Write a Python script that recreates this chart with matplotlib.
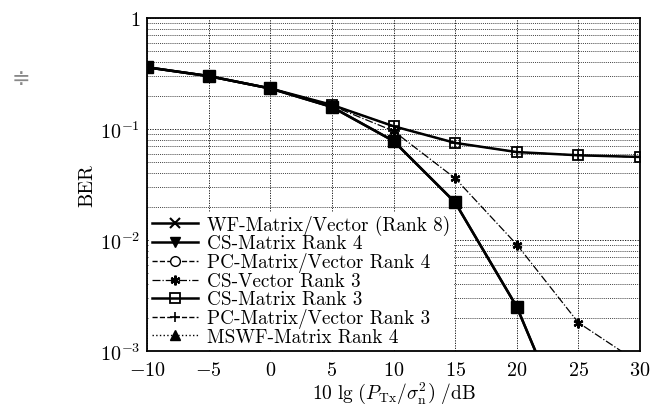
import numpy as np
import matplotlib
matplotlib.use("Agg")
import matplotlib.pyplot as plt
from matplotlib.ticker import FixedLocator, FixedFormatter, LogLocator, NullFormatter

plt.rcParams['font.family'] = ['cmr10', 'DejaVu Serif']
plt.rcParams['mathtext.fontset'] = 'cm'
plt.rcParams['axes.unicode_minus'] = False

# SNR in dB
snr = [-10, -5, 0, 5, 10, 15, 20, 25, 30]

# rank 4 curves (WF, CS-Matrix R4, PC R4, MSWF R4 lie on top of each other)
ber_rank4 = [0.36, 0.30, 0.232, 0.158, 0.078, 0.0218, 0.0025, 0.00012, 0.000005]
# CS-Vector rank 3
ber_csvec3 = [0.36, 0.30, 0.232, 0.162, 0.096, 0.036, 0.0091, 0.0018, 0.00077]
# CS-Matrix rank 3 and PC-Matrix/Vector rank 3
ber_rank3 = [0.36, 0.30, 0.232, 0.165, 0.106, 0.075, 0.062, 0.058, 0.056]

labels = ["WF-Matrix/Vector (Rank 8)", "CS-Matrix Rank 4", "PC-Matrix/Vector Rank 4",
          "CS-Vector Rank 3", "CS-Matrix Rank 3", "PC-Matrix/Vector Rank 3",
          "MSWF-Matrix Rank 4"]

fig = plt.figure(figsize=(6.52, 4.14), dpi=100)
ax = fig.add_axes([0.2255, 0.1498, 0.7561, 0.8042])

k = dict(color='black', markersize=7)
ax.plot(snr, ber_rank4, '-', marker='x', lw=1.8, mew=1.5, label=labels[0], **k)
ax.plot(snr, ber_rank4, '-', marker='v', lw=1.8, mfc='black', label=labels[1], **k)
ax.plot(snr, ber_rank4, '--', marker='o', lw=1.0, mfc='white', label=labels[2], **k)
ax.plot(snr, ber_csvec3, '-.', marker=(6, 2, 0), lw=0.9, mew=1.6, label=labels[3], **k)
ax.plot(snr, ber_rank3, '-', marker='s', lw=1.8, mfc='none', mew=1.3, label=labels[4], **k)
ax.plot(snr, ber_rank3, '--', marker='+', lw=1.0, mew=1.2, label=labels[5], **k)
ax.plot(snr, ber_rank4, ':', marker='^', lw=1.0, mfc='black', label=labels[6], **k)
# overlapping rank-4 markers form solid blobs
ax.plot(snr, ber_rank4, linestyle='none', marker='s', color='black', markersize=8)

ax.set_yscale('log')
ax.set_xlim(-10, 30)
ax.set_ylim(1e-3, 1)
ax.xaxis.set_major_locator(FixedLocator(snr))
ax.set_xticklabels([r'$%d$' % v if v >= 0 else r'$-%d$' % -v for v in snr])
ax.yaxis.set_major_locator(FixedLocator([1e-3, 1e-2, 1e-1, 1]))
ax.yaxis.set_major_formatter(FixedFormatter([r'$10^{-3}$', r'$10^{-2}$', r'$10^{-1}$', r'$1$']))
ax.yaxis.set_minor_locator(LogLocator(base=10, subs=np.arange(2, 10)))
ax.yaxis.set_minor_formatter(NullFormatter())
ax.tick_params(which='both', direction='in', labelsize=14.5, length=0, pad=5)
ax.tick_params(axis='x', pad=7)

ax.grid(True, which='major', axis='both', color='black', linestyle=(0, (1.5, 1.5)), lw=0.6)
ax.grid(True, which='minor', axis='y', color='black', linestyle=(0, (1.5, 1.5)), lw=0.5)
for s in ax.spines.values():
    s.set_linewidth(1.3)

ax.set_xlabel(r'$10\ \mathrm{lg}\ \left(P_{\mathrm{Tx}}/\sigma_{\mathrm{n}}^{2}\right)\ /\mathrm{dB}$',
              fontsize=14, labelpad=0.5)
ax.set_ylabel('BER', fontsize=14.5, labelpad=2)

leg = ax.legend(loc='lower left', fontsize=13.8, frameon=True, fancybox=False,
                edgecolor='white', framealpha=1, handlelength=2.4, borderpad=0.15,
                labelspacing=0.0, handletextpad=0.5, borderaxespad=0.1)
leg.get_frame().set_linewidth(0)

fig.text(0.032, 0.81, '\u2251', fontsize=16, color='#888888', family='DejaVu Sans',
         ha='center', va='center')

fig.savefig('out.png', dpi=100)
